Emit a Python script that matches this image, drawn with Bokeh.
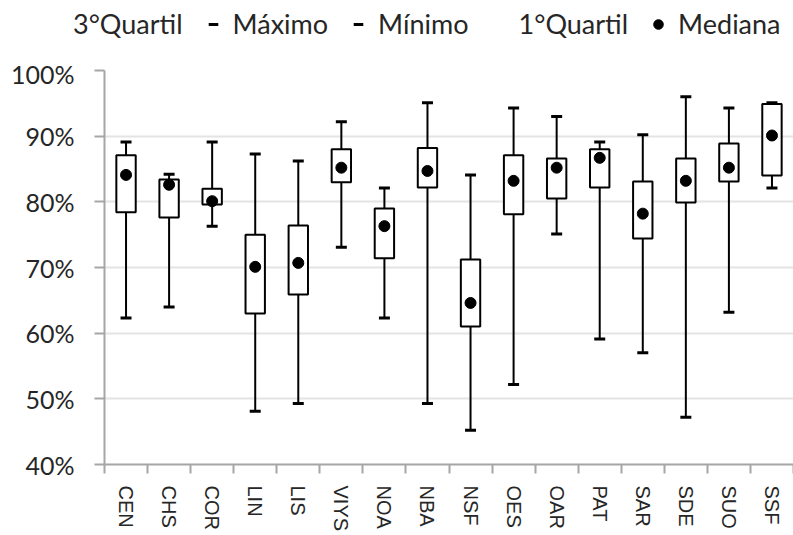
from bokeh.plotting import figure
from bokeh.layouts import column
from bokeh.models import (ColumnDataSource, Range1d, FixedTicker, PrintfTickFormatter,
                          Legend, LegendItem)
from bokeh.embed import file_html
from bokeh.resources import INLINE

categories = ["CEN", "CHS", "COR", "LIN", "LIS", "VIYS", "NOA", "NBA",
              "NSF", "OES", "OAR", "PAT", "SAR", "SDE", "SUO", "SSF"]
maximo = [89.1, 84.2, 89.1, 87.3, 86.2, 92.2, 82.1, 95.1, 84.1, 94.3, 93.0, 89.1, 90.2, 96.0, 94.3, 95.1]
q3 = [87.1, 83.4, 82.0, 75.0, 76.4, 88.0, 79.0, 88.2, 71.2, 87.1, 86.6, 88.0, 83.1, 86.6, 88.9, 94.9]
mediana = [84.1, 82.6, 80.1, 70.1, 70.7, 85.2, 76.3, 84.7, 64.6, 83.2, 85.2, 86.7, 78.2, 83.2, 85.2, 90.1]
q1 = [78.4, 77.6, 79.6, 63.0, 65.9, 83.0, 71.4, 82.2, 61.0, 78.1, 80.5, 82.2, 74.4, 79.9, 83.1, 84.0]
minimo = [62.3, 64.0, 76.3, 48.1, 49.3, 73.1, 62.3, 49.3, 45.2, 52.2, 75.1, 59.1, 57.0, 47.2, 63.2, 82.1]
y_ticks = [40, 50, 60, 70, 80, 90, 100]
legend_labels = ["3°Quartil", "Máximo", "Mínimo", "1°Quartil", "Mediana"]

n = len(categories)
xs = [i + 0.5 for i in range(n)]
src = ColumnDataSource(dict(x=xs, cat=categories, mx=maximo, q3=q3, med=mediana, q1=q1, mn=minimo))

TEXT = "#262626"
AXIS = "#a6a6a6"

p = figure(width=793, height=477, output_backend="svg", toolbar_location=None,
           x_range=Range1d(0, n), y_range=Range1d(40, 100),
           min_border_left=104, min_border_right=0, min_border_top=12, min_border_bottom=71)
p.outline_line_color = None
p.background_fill_color = "white"
p.frame_align = False

# whiskers
p.segment(x0="x", y0="mn", x1="x", y1="mx", source=src, line_color="black", line_width=2)
# boxes (1st quartile to 3rd quartile)
p.vbar(x="x", bottom="q1", top="q3", width=0.45, source=src,
       fill_color="white", line_color="black", line_width=2)
# caps and medians
p.scatter(x="x", y="mx", source=src, marker="dash", size=11, line_color="black", line_width=3)
p.scatter(x="x", y="mn", source=src, marker="dash", size=11, line_color="black", line_width=3)
p.scatter(x="x", y="med", source=src, marker="circle", size=11,
          fill_color="black", line_color="black")

# axes
xa = p.xaxis[0]
xa.ticker = FixedTicker(ticks=xs, minor_ticks=list(range(n + 1)))
xa.major_label_overrides = {x: c for x, c in zip(xs, categories)}
xa.major_label_orientation = "vertical"
xa.major_tick_line_color = None
xa.major_tick_out = 0
xa.major_tick_in = 0
xa.minor_tick_out = 9
xa.minor_tick_in = 0
xa.minor_tick_line_color = AXIS
xa.minor_tick_line_width = 2
xa.axis_line_color = AXIS
xa.axis_line_width = 2
xa.major_label_standoff = 12
xa.major_label_text_font = "Liberation Sans"
xa.major_label_text_font_size = "20px"
xa.major_label_text_color = TEXT

ya = p.yaxis[0]
ya.ticker = FixedTicker(ticks=y_ticks)
ya.formatter = PrintfTickFormatter(format="%d%%")
ya.major_tick_out = 10
ya.major_tick_in = 0
ya.major_tick_line_color = AXIS
ya.major_tick_line_width = 2
ya.minor_tick_line_color = None
ya.axis_line_color = AXIS
ya.axis_line_width = 2
ya.major_label_standoff = 20
ya.major_label_text_font = "Lato"
ya.major_label_text_font_size = "25px"
ya.major_label_text_color = TEXT

p.xgrid.grid_line_color = None
p.ygrid.ticker = FixedTicker(ticks=y_ticks)
p.ygrid.grid_line_color = "#e4e4e4"
p.ygrid.grid_line_width = 2

# legend strip above the chart (same series; its ranges keep the marks out of view)
lg = figure(width=793, height=58, output_backend="svg", toolbar_location=None,
            x_range=Range1d(0, 1), y_range=Range1d(0, 1),
            x_axis_location=None, y_axis_location=None,
            min_border_left=0, min_border_right=0, min_border_top=0, min_border_bottom=0)
lg.frame_align = False
lg.grid.visible = False
lg.outline_line_color = None
l_q3 = lg.scatter(x="x", y="q3", source=src, marker="square", size=11, fill_alpha=0, line_alpha=0)
l_max = lg.scatter(x="x", y="mx", source=src, marker="dash", size=11, line_color="black", line_width=3)
l_min = lg.scatter(x="x", y="mn", source=src, marker="dash", size=11, line_color="black", line_width=3)
l_q1 = lg.scatter(x="x", y="q1", source=src, marker="square", size=11, fill_alpha=0, line_alpha=0)
l_med = lg.scatter(x="x", y="med", source=src, marker="circle", size=11,
                   fill_color="black", line_color="black")
rends = [l_q3, l_max, l_min, l_q1, l_med]

legend = Legend(items=[LegendItem(label=t, renderers=[r]) for t, r in zip(legend_labels, rends)],
                orientation="horizontal", location=(41, 18),
                glyph_width=24, glyph_height=24, label_standoff=8, spacing=18,
                padding=4, margin=0, label_height=24,
                label_text_font="Lato", label_text_font_size="27px", label_text_color=TEXT,
                background_fill_alpha=0, border_line_color=None)
lg.add_layout(legend, "center")

open("out.html", "w").write(file_html(column(lg, p), INLINE))
